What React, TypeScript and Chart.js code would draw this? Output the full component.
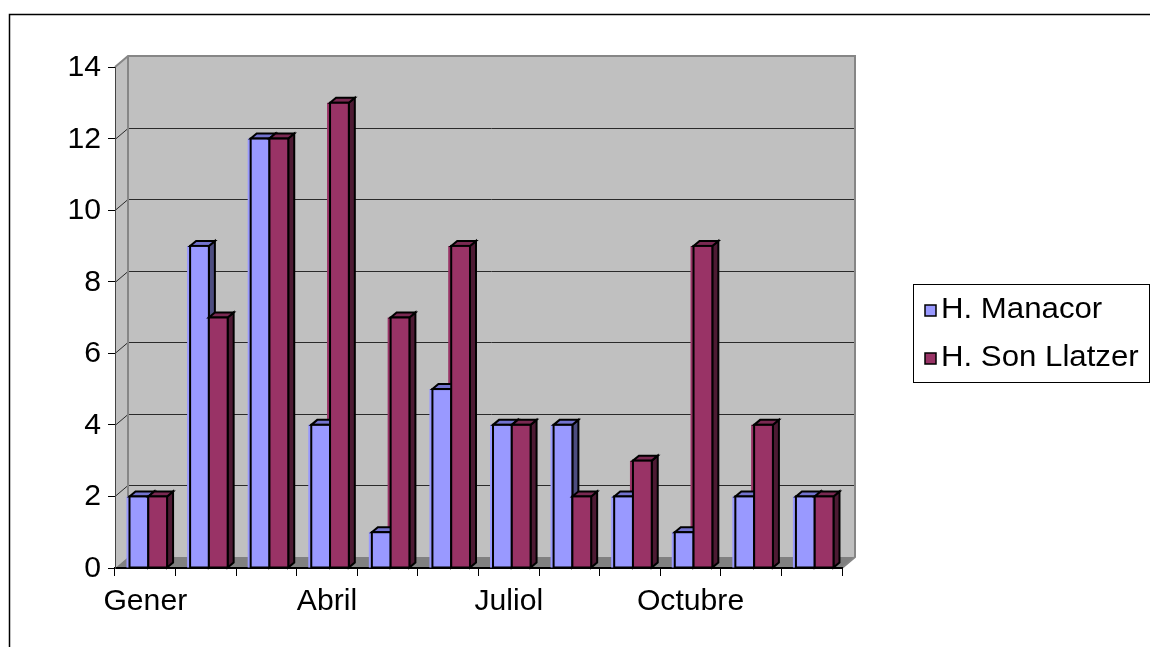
import React, { useEffect, useRef } from 'react';
import { Chart, registerables } from 'chart.js';

Chart.register(...registerables);

// ---- data ----
const months = ['Gener', 'Febrer', 'Març', 'Abril', 'Maig', 'Juny', 'Juliol', 'Agost', 'Setembre', 'Octubre', 'Novembre', 'Desembre'];
const shownMonthLabels = ['Gener', '', '', 'Abril', '', '', 'Juliol', '', '', 'Octubre', '', ''];
const manacor = [2, 9, 12, 4, 1, 5, 4, 4, 2, 1, 2, 2];
const sonLlatzer = [2, 7, 12, 13, 7, 9, 4, 2, 3, 9, 4, 2];
const seriesNames = ['H. Manacor', 'H. Son Llatzer'];
const yMin = 0;
const yMax = 14;
const yStep = 2;

// ---- style ----
const FONT = '"Liberation Sans", Arial, sans-serif';
const AXIS_FONT_SIZE = 29;
const LEGEND_FONT_SIZE = 30;
const HSCALE = 1.04;
const DX = 13; // wall depth
const DY = 11;
const BX = 6; // bar depth
const BY = 5;
const SHIFT = 3;
const faces = [
  { front: '#9999FF', top: '#7373CF', side: '#4D4D80' },
  { front: '#993366', top: '#7A2952', side: '#4D1A33' },
];

function poly(ctx: CanvasRenderingContext2D, pts: number[][]) {
  ctx.beginPath();
  ctx.moveTo(pts[0][0], pts[0][1]);
  for (let i = 1; i < pts.length; i++) ctx.lineTo(pts[i][0], pts[i][1]);
  ctx.closePath();
}

function stretchedText(ctx: CanvasRenderingContext2D, text: string, x: number, y: number, align: CanvasTextAlign, size: number) {
  ctx.save();
  ctx.translate(x, y);
  ctx.scale(HSCALE, 1);
  ctx.font = `${size}px ${FONT}`;
  ctx.fillStyle = '#000';
  ctx.textAlign = align;
  ctx.textBaseline = 'middle';
  ctx.fillText(text, 0, 0);
  ctx.restore();
}

const wallsPlugin = {
  id: 'walls3d',
  beforeDraw(chart: any) {
    const ctx: CanvasRenderingContext2D = chart.ctx;
    const { left, right, top, bottom } = chart.chartArea;
    ctx.save();
    ctx.fillStyle = '#C0C0C0';
    ctx.fillRect(left + DX, top - DY, right - left, bottom - top);
    poly(ctx, [[left, top], [left + DX, top - DY], [left + DX, bottom - DY], [left, bottom]]);
    ctx.fill();
    ctx.fillStyle = '#808080';
    poly(ctx, [[left, bottom], [left + DX, bottom - DY], [right + DX, bottom - DY], [right, bottom]]);
    ctx.fill();
    const ys = chart.scales.y;
    ctx.strokeStyle = '#2a2a2a';
    ctx.lineWidth = 1;
    ys.ticks.forEach((t: any) => {
      if (t.value <= yMin || t.value >= yMax) return;
      const py = Math.round(ys.getPixelForValue(t.value)) + 0.5;
      ctx.beginPath();
      ctx.moveTo(left, py);
      ctx.lineTo(left + DX, py - DY);
      ctx.lineTo(right + DX, py - DY);
      ctx.stroke();
    });
    ctx.strokeStyle = '#868686';
    ctx.lineWidth = 2;
    ctx.beginPath();
    ctx.moveTo(left, top);
    ctx.lineTo(left + DX, top - DY);
    ctx.lineTo(right + DX, top - DY);
    ctx.lineTo(right + DX, bottom - DY);
    ctx.lineTo(right, bottom);
    ctx.moveTo(left + DX, top - DY);
    ctx.lineTo(left + DX, bottom - DY);
    ctx.stroke();
    ctx.restore();
  },
  afterDatasetsDraw(chart: any) {
    const ctx: CanvasRenderingContext2D = chart.ctx;
    const metas = [chart.getDatasetMeta(0), chart.getDatasetMeta(1)];
    ctx.save();
    ctx.translate(SHIFT, 0);
    ctx.lineJoin = 'miter';
    const n = metas[0].data.length;
    for (let i = 0; i < n; i++) {
      for (let d = 0; d < metas.length; d++) {
        const el = metas[d].data[i];
        const p = el.getProps(['x', 'y', 'base', 'width'], true);
        const l = p.x - p.width / 2;
        const r = p.x + p.width / 2;
        const t = p.y;
        const b = p.base;
        const f = faces[d];
        ctx.lineWidth = 2;
        ctx.strokeStyle = '#000';
        ctx.fillStyle = f.side;
        poly(ctx, [[r, t], [r + BX, t - BY], [r + BX, b - BY], [r, b]]);
        ctx.fill();
        ctx.stroke();
        ctx.fillStyle = f.top;
        poly(ctx, [[l, t], [l + BX, t - BY], [r + BX, t - BY], [r, t]]);
        ctx.fill();
        ctx.stroke();
        ctx.fillStyle = f.front;
        ctx.fillRect(l, t, r - l, b - t);
        ctx.strokeRect(l, t, r - l, b - t);
      }
    }
    ctx.restore();
  },
  afterDraw(chart: any) {
    const ctx: CanvasRenderingContext2D = chart.ctx;
    const { left, bottom } = chart.chartArea;
    const ys = chart.scales.y;
    ys.ticks.forEach((t: any) => {
      stretchedText(ctx, String(t.value), left - 14, ys.getPixelForValue(t.value) + 1, 'right', AXIS_FONT_SIZE);
    });
    const xs = chart.scales.x;
    xs.ticks.forEach((_t: any, i: number) => {
      const lab = shownMonthLabels[i];
      if (lab) stretchedText(ctx, lab, xs.getPixelForTick(i), bottom + 34, 'center', AXIS_FONT_SIZE);
    });
    ctx.save();
    ctx.strokeStyle = '#000';
    ctx.lineWidth = 1.5;
    ctx.strokeRect(9.5, 14.5, 1300, 800);
    ctx.lineWidth = 1;
    ctx.strokeRect(913.5, 284.5, 236, 98);
    const rows = [310, 358];
    chart.data.datasets.forEach((ds: any, i: number) => {
      const cy = rows[i];
      ctx.fillStyle = faces[i].front;
      ctx.fillRect(925, cy - 5, 11, 11);
      ctx.lineWidth = 1.5;
      ctx.strokeStyle = '#000';
      ctx.strokeRect(925, cy - 5, 11, 11);
      stretchedText(ctx, ds.label, 941, cy, 'left', LEGEND_FONT_SIZE);
    });
    ctx.restore();
  },
};

export default function App() {
  const ref = useRef<HTMLCanvasElement | null>(null);
  useEffect(() => {
    if (!ref.current) return;
    const chart = new Chart(ref.current, {
      type: 'bar',
      data: {
        labels: months,
        datasets: [
          { label: seriesNames[0], data: manacor, backgroundColor: faces[0].front, borderWidth: 0 },
          { label: seriesNames[1], data: sonLlatzer, backgroundColor: faces[1].front, borderWidth: 0 },
        ],
      },
      options: {
        responsive: false,
        animation: false,
        devicePixelRatio: 1,
        layout: { padding: { left: 0, top: 67, right: 308, bottom: 0 } },
        plugins: { legend: { display: false }, tooltip: { enabled: false } },
        datasets: { bar: { categoryPercentage: 0.62, barPercentage: 1 } },
        scales: {
          x: {
            grid: { drawOnChartArea: false, drawTicks: true, tickLength: 8, color: '#000', offset: true },
            border: { display: true, color: '#000', width: 2 },
            ticks: { display: false, autoSkip: false, maxRotation: 0, minRotation: 0 },
            afterFit: (s: any) => { s.height = 79; },
          },
          y: {
            min: yMin,
            max: yMax,
            grid: { drawOnChartArea: false, drawTicks: true, tickLength: 7, color: '#000' },
            border: { display: true, color: '#444', width: 1 },
            ticks: { display: false, stepSize: yStep },
            afterFit: (s: any) => { s.width = 115; },
          },
        },
      },
      plugins: [wallsPlugin],
    } as any);
    return () => chart.destroy();
  }, []);
  return (
    <div style={{ position: 'absolute', left: 0, top: 0, width: 1150, height: 647, background: '#fff' }}>
      <canvas ref={ref} width={1150} height={647} style={{ display: 'block' }} />
    </div>
  );
}
